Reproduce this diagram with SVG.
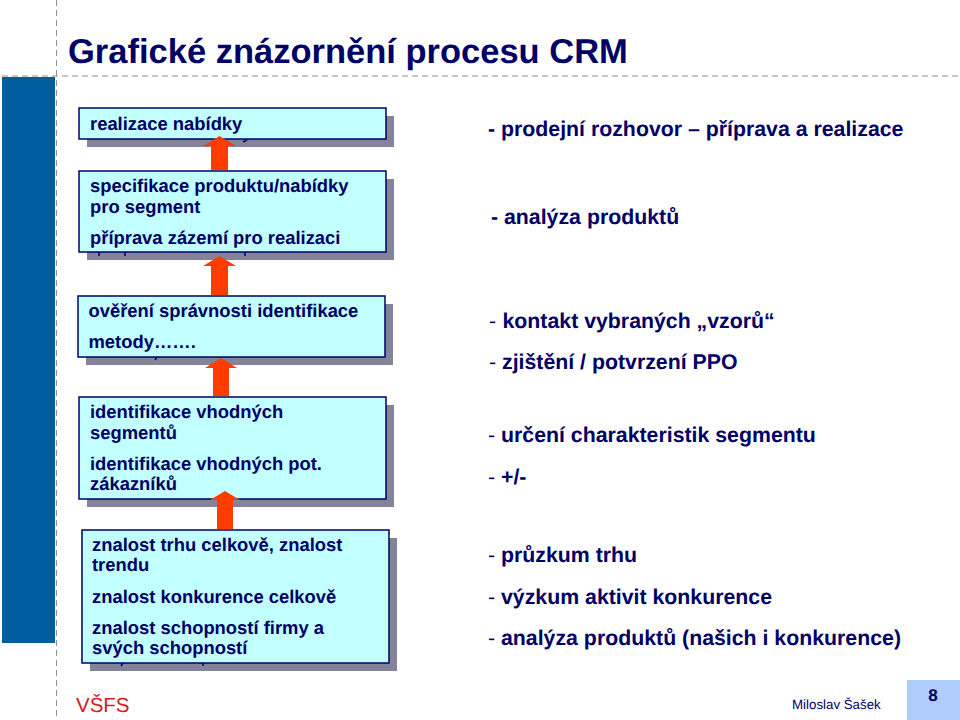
<svg xmlns="http://www.w3.org/2000/svg" width="960" height="720" viewBox="0 0 960 720">
<style>
text{font-family:"Liberation Sans",Arial,sans-serif;fill:#000066;text-rendering:geometricPrecision}
.b{font-size:18.400px;font-weight:700}
.r{font-size:21.300px;font-weight:700}
.l{font-weight:400}
.box{fill:#c2ffff;stroke:#000066;stroke-width:1.5}
.sh{fill:#838399}
.arr{fill:#ff3c00}
.g{stroke:#8f8f8f;stroke-width:1;stroke-dasharray:6 4;fill:none}
.m{stroke:#000066;stroke-width:1.500;fill:none}
</style>
<rect width="960" height="720" fill="#fff"/>
<g id="guides"><path class="g" d="M2 76H960M56.500 0V720"/></g>
<rect id="sidebar" x="2" y="77" width="53" height="566" fill="#005e9e"/>
<text id="title" x="68" y="63" font-size="34.500" font-weight="700">Grafické znázornění procesu CRM</text>
<g id="n1"><rect class="sh" x="87" y="116" width="307" height="31"/><path class="m" d="M247 140L243 142"/><rect class="box" x="79" y="108" width="307" height="31"/><text class="b" x="90" y="130">realizace nabídky</text></g>
<g id="n2"><rect class="sh" x="87" y="179" width="307" height="81"/><path class="m" d="M99 252V256M125 252V256M245 252V256"/><rect class="box" x="79" y="171" width="307" height="81"/><text class="b" x="90" y="192">specifikace produktu/nabídky</text><text class="b" x="90" y="213">pro segment</text><text class="b" x="90" y="244">příprava zázemí pro realizaci</text></g>
<g id="n3"><rect class="sh" x="86" y="304" width="307" height="61"/><path class="m" d="M157 357L155 360"/><rect class="box" x="78" y="296" width="307" height="61"/><text class="b" x="88.500" y="317">ověření správnosti identifikace</text><text class="b" x="88.500" y="348">metody…….</text></g>
<g id="n4"><rect class="sh" x="87" y="405" width="307" height="102"/><rect class="box" x="79" y="397" width="307" height="102"/><text class="b" x="90" y="418">identifikace vhodných</text><text class="b" x="90" y="439">segmentů</text><text class="b" x="90" y="470">identifikace vhodných pot.</text><text class="b" x="90" y="490">zákazníků</text></g>
<g id="n5"><rect class="sh" x="90" y="538" width="307" height="133"/><path class="m" d="M123 663L121 666M203 663V666"/><rect class="box" x="82" y="530" width="307" height="133"/><text class="b" x="92" y="551">znalost trhu celkově, znalost</text><text class="b" x="92" y="571">trendu</text><text class="b" x="92" y="603">znalost konkurence celkově</text><text class="b" x="92" y="634">znalost schopností firmy a</text><text class="b" x="92" y="654">svých schopností</text></g>
<g id="connectors">
<path class="arr" d="M219.500 136L236 146H228V170H211V146H203Z"/>
<path class="arr" d="M219.500 256L236 266H228V295H211V266H203Z"/>
<path class="arr" d="M221 358L237 368H229V396H213V368H205Z"/>
<path class="arr" d="M225 491L240 500H233V529H217V500H210Z"/>
</g>
<g id="notes">
<text class="r" x="488" y="136">- prodejní rozhovor – příprava a realizace</text>
<text class="r" x="491" y="224">- analýza produktů</text>
<text class="r" x="489" y="328"><tspan class="l">-</tspan><tspan x="502.500">kontakt vybraných „vzorů“</tspan></text>
<text class="r" x="489" y="369"><tspan class="l">-</tspan><tspan x="502">zjištění / potvrzení PPO</tspan></text>
<text class="r" x="488" y="442"><tspan class="l">-</tspan><tspan x="501">určení charakteristik segmentu</tspan></text>
<text class="r" x="488" y="484"><tspan class="l">-</tspan><tspan x="501">+/-</tspan></text>
<text class="r" x="488" y="562"><tspan class="l">-</tspan><tspan x="501">průzkum trhu</tspan></text>
<text class="r" x="488" y="604"><tspan class="l">-</tspan><tspan x="501">výzkum aktivit konkurence</tspan></text>
<text class="r" x="488" y="645"><tspan class="l">-</tspan><tspan x="501">analýza produktů (našich i konkurence)</tspan></text>
</g>
<text id="school" x="76" y="712" font-size="20.500" style="fill:#d42020">VŠFS</text>
<text id="author" x="792" y="709" font-size="13.300">Miloslav Šašek</text>
<g id="page"><rect x="907" y="680" width="53" height="40" fill="#b0ccff"/><text x="933" y="701" font-size="17" font-weight="700" text-anchor="middle">8</text></g>
</svg>
